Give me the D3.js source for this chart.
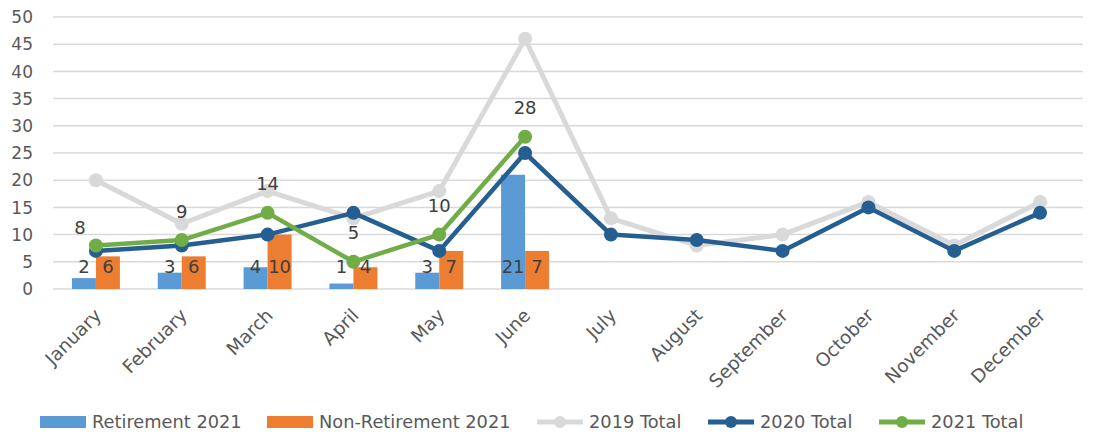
<!DOCTYPE html>
<html lang="en">
<head>
  <meta charset="UTF-8">
  <script src="https://cdn.jsdelivr.net/npm/d3@7"></script>
  <style>
    body { margin: 0; background: #fff; }
    text { font-family: "DejaVu Sans", "Liberation Sans", sans-serif; }
  </style>
</head>
<body>
  <svg width="1094" height="436"></svg>
  <script>
    // data
    var months = ["January", "February", "March", "April", "May", "June",
                  "July", "August", "September", "October", "November", "December"];
    var retirement2021 = [2, 3, 4, 1, 3, 21];
    var nonRetirement2021 = [6, 6, 10, 4, 7, 7];
    var total2019 = [20, 12, 18, 13, 18, 46, 13, 8, 10, 16, 8, 16];
    var total2020 = [7, 8, 10, 14, 7, 25, 10, 9, 7, 15, 7, 14];
    var total2021 = [8, 9, 14, 5, 10, 28];
    var yTicks = [0, 5, 10, 15, 20, 25, 30, 35, 40, 45, 50];

    var svg = d3.select("svg");
    var plot = {left: 53, right: 1083, top: 17, bottom: 289};

    var x = d3.scaleBand().domain(months).range([plot.left, plot.right]);
    var y = d3.scaleLinear().domain([0, 50]).range([plot.bottom, plot.top]);
    var barW = 24;

    // gridlines
    svg.append("g").selectAll("line").data(yTicks).enter().append("line")
      .attr("x1", plot.left).attr("x2", plot.right)
      .attr("y1", function(d){ return y(d) }).attr("y2", function(d){ return y(d) })
      .attr("stroke", "#d9d9d9").attr("stroke-width", 1.5);

    // y axis labels
    svg.append("g").selectAll("text").data(yTicks).enter().append("text")
      .attr("x", 33).attr("y", function(d){ return y(d) })
      .attr("dy", "0.36em").attr("text-anchor", "end")
      .attr("font-size", 17).attr("fill", "#595959")
      .text(function(d){ return d });

    // x axis labels
    svg.append("g").selectAll("text").data(months).enter().append("text")
      .attr("transform", function(d){
        return "translate(" + (x(d) + x.bandwidth()/2 + 2) + "," + 312 + ") rotate(-45)";
      })
      .attr("text-anchor", "end").attr("dy", "0.35em")
      .attr("font-size", 18.5).attr("fill", "#595959")
      .text(function(d){ return d });

    // bars
    function cx(i){ return x(months[i]) + x.bandwidth()/2 }
    var bars = svg.append("g");
    bars.selectAll(".ret").data(retirement2021).enter().append("rect")
      .attr("x", function(d, i){ return cx(i) - barW })
      .attr("y", function(d){ return y(d) })
      .attr("width", barW).attr("height", function(d){ return y(0) - y(d) })
      .attr("fill", "#5b9bd5");
    bars.selectAll(".non").data(nonRetirement2021).enter().append("rect")
      .attr("x", function(d, i){ return cx(i) })
      .attr("y", function(d){ return y(d) })
      .attr("width", barW).attr("height", function(d){ return y(0) - y(d) })
      .attr("fill", "#ed7d31");

    // lines
    var line = d3.line().x(function(d, i){ return cx(i) }).y(function(d){ return y(d) });
    var series = [
      {values: total2019, color: "#d9d9d9", width: 5},
      {values: total2020, color: "#255e91", width: 4.5},
      {values: total2021, color: "#70ad47", width: 4.5}
    ];
    series.forEach(function(s){
      var g = svg.append("g");
      g.append("path").attr("d", line(s.values))
        .attr("fill", "none").attr("stroke", s.color)
        .attr("stroke-width", s.width).attr("stroke-linejoin", "round");
      g.selectAll("circle").data(s.values).enter().append("circle")
        .attr("cx", function(d, i){ return cx(i) })
        .attr("cy", function(d){ return y(d) })
        .attr("r", 7).attr("fill", s.color);
    });

    // bar labels (inside base)
    var labels = svg.append("g").attr("font-size", 18).attr("fill", "#404040")
      .attr("text-anchor", "middle");
    labels.selectAll(".rl").data(retirement2021).enter().append("text")
      .attr("x", function(d, i){ return cx(i) - barW/2 })
      .attr("y", y(0) - 22).attr("dy", "0.36em")
      .text(function(d){ return d });
    labels.selectAll(".nl").data(nonRetirement2021).enter().append("text")
      .attr("x", function(d, i){ return cx(i) + barW/2 })
      .attr("y", y(0) - 22).attr("dy", "0.36em")
      .text(function(d){ return d });

    // 2021 total labels (above); the first one sits a little left and lower, as in the original
    labels.selectAll(".tl").data(total2021).enter().append("text")
      .attr("x", function(d, i){ return cx(i) - (i === 0 ? 16 : 0) })
      .attr("y", function(d, i){ return y(d) - (i === 0 ? 18 : 29) }).attr("dy", "0.36em")
      .text(function(d){ return d });

    // legend
    var legendItems = [
      {name: "Retirement 2021", color: "#5b9bd5", type: "bar", x: 40},
      {name: "Non-Retirement 2021", color: "#ed7d31", type: "bar", x: 267},
      {name: "2019 Total", color: "#d9d9d9", type: "line", x: 537},
      {name: "2020 Total", color: "#255e91", type: "line", x: 708},
      {name: "2021 Total", color: "#70ad47", type: "line", x: 879}
    ];
    var ly = 422;
    var lg = svg.append("g");
    legendItems.forEach(function(d){
      if (d.type === "bar") {
        lg.append("rect").attr("x", d.x).attr("y", ly - 6).attr("width", 46).attr("height", 12)
          .attr("fill", d.color);
      } else {
        lg.append("line").attr("x1", d.x).attr("x2", d.x + 46).attr("y1", ly).attr("y2", ly)
          .attr("stroke", d.color).attr("stroke-width", 5);
        lg.append("circle").attr("cx", d.x + 23).attr("cy", ly).attr("r", 6).attr("fill", d.color);
      }
      lg.append("text").attr("x", d.x + 52).attr("y", ly).attr("dy", "0.36em")
        .attr("font-size", 17.8).attr("fill", "#595959").text(d.name);
    });
  </script>
</body>
</html>
